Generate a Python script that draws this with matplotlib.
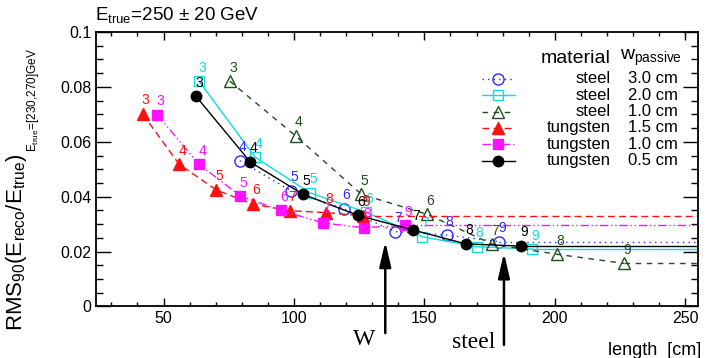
import numpy as np
import matplotlib
matplotlib.use('Agg')
from matplotlib import pyplot as plt
from matplotlib.ticker import MultipleLocator, FuncFormatter

plt.rcParams['font.family'] = ['Liberation Sans', 'DejaVu Sans']
plt.rcParams['mathtext.fontset'] = 'custom'
plt.rcParams['mathtext.rm'] = 'Liberation Sans'
plt.rcParams['mathtext.it'] = 'Liberation Sans:italic'
plt.rcParams['mathtext.sf'] = 'Liberation Sans'

# calorimeter length [cm] vs RMS90, numbers are the depth labels
steel30_x = [79.2, 99.0, 119.0, 138.8, 158.5, 178.7]
steel30_y = [0.0531, 0.0421, 0.0356, 0.0273, 0.0260, 0.0236]
steel30_n = [4, 5, 6, 7, 8, 9]

steel20_x = [63.6, 85.2, 106.2, 127.7, 149.2, 170.0, 191.4]
steel20_y = [0.0821, 0.0543, 0.0414, 0.0343, 0.0254, 0.0218, 0.0209]
steel20_n = [3, 4, 5, 6, 7, 8, 9]

steel10_x = [75.4, 100.7, 125.8, 151.0, 176.1, 201.0, 226.5]
steel10_y = [0.0821, 0.0621, 0.0409, 0.0336, 0.0227, 0.0190, 0.0157]
steel10_n = [3, 4, 5, 6, 7, 8, 9]

tung15_x = [42.0, 56.0, 70.3, 84.3, 98.3, 112.4, 126.4]
tung15_y = [0.0701, 0.0518, 0.0424, 0.0373, 0.0349, 0.0342, 0.0330]
tung15_n = [3, 4, 5, 6, 7, 8, 9]

tung10_x = [47.6, 63.6, 79.5, 95.1, 111.3, 126.8, 142.6]
tung10_y = [0.0698, 0.0518, 0.0402, 0.0350, 0.0304, 0.0287, 0.0296]
tung10_n = [3, 4, 5, 6, 7, 8, 9]

tung05_x = [62.4, 83.3, 103.4, 124.5, 145.5, 165.9, 187.0]
tung05_y = [0.0766, 0.0526, 0.0409, 0.0332, 0.0279, 0.0228, 0.0220]
tung05_n = [3, 4, 5, 6, 7, 8, 9]

materials = ['steel', 'steel', 'steel', 'tungsten', 'tungsten', 'tungsten']
w_passive = ['3.0 cm', '2.0 cm', '1.0 cm', '1.5 cm', '1.0 cm', '0.5 cm']

w_arrow_x = 135.0
steel_arrow_x = 180.5

xmin, xmax = 24, 255

blue = '#2b2bff'
cyan = '#10dcdc'
dgreen = '#1f4f1f'
red = '#ff1010'
magenta = '#ff10ff'

series = [
    (steel30_x, steel30_y, steel30_n, blue, (0, (1, 3)), 'o', 'none', 8),
    (steel20_x, steel20_y, steel20_n, cyan, '-', 's', 'none', 7.5),
    (steel10_x, steel10_y, steel10_n, dgreen, (0, (4, 4)), '^', 'none', 8.5),
    (tung15_x, tung15_y, tung15_n, red, (0, (5, 3)), '^', red, 8.5),
    (tung10_x, tung10_y, tung10_n, magenta, (0, (6, 2, 1, 2, 1, 2)), 's', magenta, 7.5),
    (tung05_x, tung05_y, tung05_n, 'black', '-', 'o', 'black', 7.5),
]

fig = plt.figure(figsize=(7.08, 3.58), dpi=100)
ax = fig.add_axes([0.1352, 0.1439, 0.8511, 0.7667])

for x, y, n, col, ls, mk, fc, ms in series:
    ax.plot(x, y, color=col, ls=ls, lw=1.0)
    # flat continuation to the edge of the frame
    ax.plot([x[-1], xmax], [y[-1], y[-1]], color=col, ls=ls, lw=1.0)
    ax.plot(x, y, ls='none', marker=mk, ms=ms, mfc=fc, mec=col, mew=1.0)
    for xi, yi, ni in zip(x, y, n):
        ax.annotate(str(ni), (xi, yi), xytext=(2.2, 9.8), textcoords='offset points',
                    ha='center', va='center', color=col, fontsize=10)

ax.set_xlim(xmin, xmax)
ax.set_ylim(0, 0.1)
ax.xaxis.set_major_locator(MultipleLocator(50))
ax.xaxis.set_minor_locator(MultipleLocator(10))
ax.yaxis.set_major_locator(MultipleLocator(0.02))
ax.yaxis.set_minor_locator(MultipleLocator(0.005))
ax.yaxis.set_major_formatter(FuncFormatter(lambda v, p: '%g' % round(v, 3)))
ax.tick_params(which='both', direction='in', top=True, right=True, width=1.0,
               labelsize=11.5)
ax.tick_params(axis='y', which='major', length=10.8, pad=3)
ax.tick_params(axis='y', which='minor', length=5)
ax.tick_params(axis='x', which='major', length=5.8, pad=3.5)
ax.tick_params(axis='x', which='minor', length=2.9)
for sp in ax.spines.values():
    sp.set_linewidth(1.3)

# legend drawn by hand: handle, material, thickness
hx0, hx1, hxm = 0.641, 0.696, 0.668
rows = [0.829, 0.769, 0.710, 0.651, 0.591, 0.531]
for (x, y, n, col, ls, mk, fc, ms), mat, w, ry in zip(series, materials, w_passive, rows):
    ax.plot([hx0, hx1], [ry, ry], transform=ax.transAxes, color=col, ls=ls, lw=1.0)
    ax.plot([hxm], [ry], transform=ax.transAxes, ls='none', marker=mk, ms=ms,
            mfc=fc, mec=col, mew=1.0)
    ax.text(0.855, ry, mat, transform=ax.transAxes, ha='right', va='center', fontsize=12)
    ax.text(0.966, ry, w, transform=ax.transAxes, ha='right', va='center', fontsize=12)
ax.text(0.855, 0.905, 'material', transform=ax.transAxes, ha='right', va='center',
        fontsize=14)
ax.text(0.870, 0.905, r'w$_{\mathrm{passive}}$', transform=ax.transAxes, ha='left',
        va='center', fontsize=14)

# arrows marking the W and steel lengths
arrow = dict(arrowstyle='-|>,head_length=1.5,head_width=0.35', color='black', lw=1.8,
             mutation_scale=10, shrinkA=0, shrinkB=0)
ax.annotate('', xy=(w_arrow_x, 0.0236), xytext=(w_arrow_x, -0.0097),
            arrowprops=arrow, annotation_clip=False)
ax.annotate('', xy=(steel_arrow_x, 0.0195), xytext=(steel_arrow_x, -0.014),
            arrowprops=arrow, annotation_clip=False)
ax.text(w_arrow_x - 8.2, -0.0122, 'W', family='Liberation Serif', fontsize=17,
        ha='center', va='center', clip_on=False)
ax.text(steel_arrow_x - 11.5, -0.0132, 'steel', family='Liberation Serif', fontsize=17,
        ha='center', va='center', clip_on=False)

fig.text(0.134, 0.957, r'E$_{\mathrm{true}}$=250 $\pm$ 20 GeV', ha='left', va='center',
         fontsize=13.5)
fig.text(0.991, 0.022, 'length  [cm]', ha='right', va='center', fontsize=13)

ylab = fig.text(0.024, 0.075, r'RMS$_{90}$(E$_{\mathrm{reco}}$/E$_{\mathrm{true}}$)',
                rotation=90, ha='center', va='bottom', fontsize=16)
fig.canvas.draw()
bb = ylab.get_window_extent(fig.canvas.get_renderer())
fig.text(bb.x1 / 708 - 0.006, bb.y1 / 358 + 0.003,
         r'E$_{\mathrm{true}}$=[230,270]GeV', rotation=90, ha='left', va='bottom',
         fontsize=8.5)

fig.savefig('out.png', dpi=100)
